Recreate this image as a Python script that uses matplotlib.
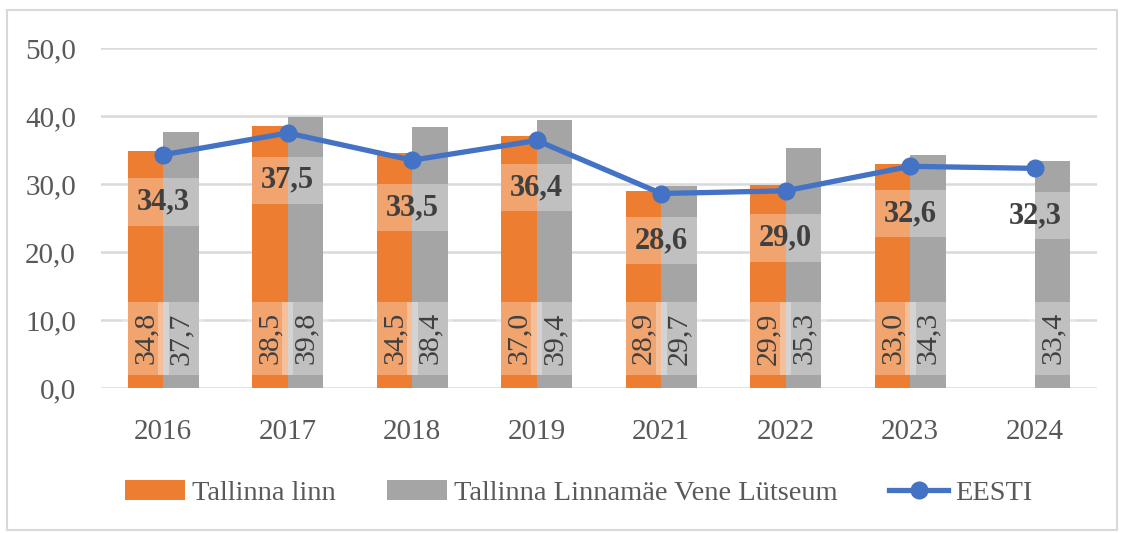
import numpy as np
import matplotlib.pyplot as plt
from matplotlib.patches import Rectangle

years = ['2016', '2017', '2018', '2019', '2021', '2022', '2023', '2024']
tallinn = [34.8, 38.5, 34.5, 37.0, 28.9, 29.9, 33.0, np.nan]
lyceum = [37.7, 39.8, 38.4, 39.4, 29.7, 35.3, 34.3, 33.4]
eesti = [34.3, 37.5, 33.5, 36.4, 28.6, 29.0, 32.6, 32.3]

plt.rcParams['font.family'] = ['Liberation Serif', 'DejaVu Serif']

ORANGE = '#ED7D31'
GRAY = '#A5A5A5'
BLUE = '#4472C4'
TXT = '#595959'

fig = plt.figure(figsize=(11.24, 5.33), dpi=100)
fig.patches.append(Rectangle((7 / 1124, 3 / 533), 1110 / 1124, 520 / 533,
                             transform=fig.transFigure, fill=False,
                             edgecolor='#D9D9D9', linewidth=1.5))
ax = fig.add_axes([101 / 1124, 1 - 388 / 533, 996 / 1124, 340 / 533])

x = np.arange(len(years))
w = 0.285
b1 = ax.bar(x - w / 2, tallinn, w, color=ORANGE, label='Tallinna linn', zorder=2)
b2 = ax.bar(x + w / 2, lyceum, w, color=GRAY,
            label='Tallinna Linnamäe Vene Lütseum', zorder=2)
ln, = ax.plot(x, eesti, color=BLUE, linewidth=3.8, marker='o', markersize=12,
              label='EESTI', zorder=4)

# rotated value labels at the bottom of the bars
for xs, vals in ((x - w / 2, tallinn), (x + w / 2, lyceum)):
    for xi, v in zip(xs, vals):
        if np.isnan(v):
            continue
        ax.text(xi, 7.3, f'{v:.1f}'.replace('.', ','), rotation=90,
                ha='center', va='center', fontsize=21.5, color='#404040',
                zorder=5,
                bbox=dict(boxstyle='square,pad=0.35', facecolor='white',
                          edgecolor='none', alpha=0.3))

# labels for the EESTI line
for xi, v in zip(x, eesti):
    ax.annotate(f'{v:.1f}'.replace('.', ','), (xi, v), xytext=(0, -34),
                textcoords='offset points', ha='center', va='center',
                fontsize=22, fontweight='bold', color='#404040', zorder=5,
                bbox=dict(boxstyle='square,pad=0.3', facecolor='white',
                          edgecolor='none', alpha=0.3))

ax.set_xlim(-0.5, len(years) - 0.5)
ax.set_ylim(0, 50)
ax.set_yticks(np.arange(0, 51, 10))
ax.set_yticklabels([f'{t:.1f}'.replace('.', ',') for t in np.arange(0, 51, 10)])
ax.set_xticks(x)
ax.set_xticklabels(years)
ax.tick_params(axis='both', length=0, labelsize=21, colors=TXT)
ax.tick_params(axis='y', pad=18)
ax.tick_params(axis='x', pad=22)
ax.grid(axis='y', color='#D9D9D9', linewidth=1.8, zorder=0)
ax.set_axisbelow(True)
for s in ax.spines.values():
    s.set_visible(False)

fig.legend(handles=[b1, b2, ln], loc='center', bbox_to_anchor=(0.515, 1 - 493 / 533),
           ncol=3, frameon=False, fontsize=20.5, labelcolor=TXT,
           handlelength=2.1, handletextpad=0.25, columnspacing=1.8)

fig.savefig('out.png', dpi=100)
